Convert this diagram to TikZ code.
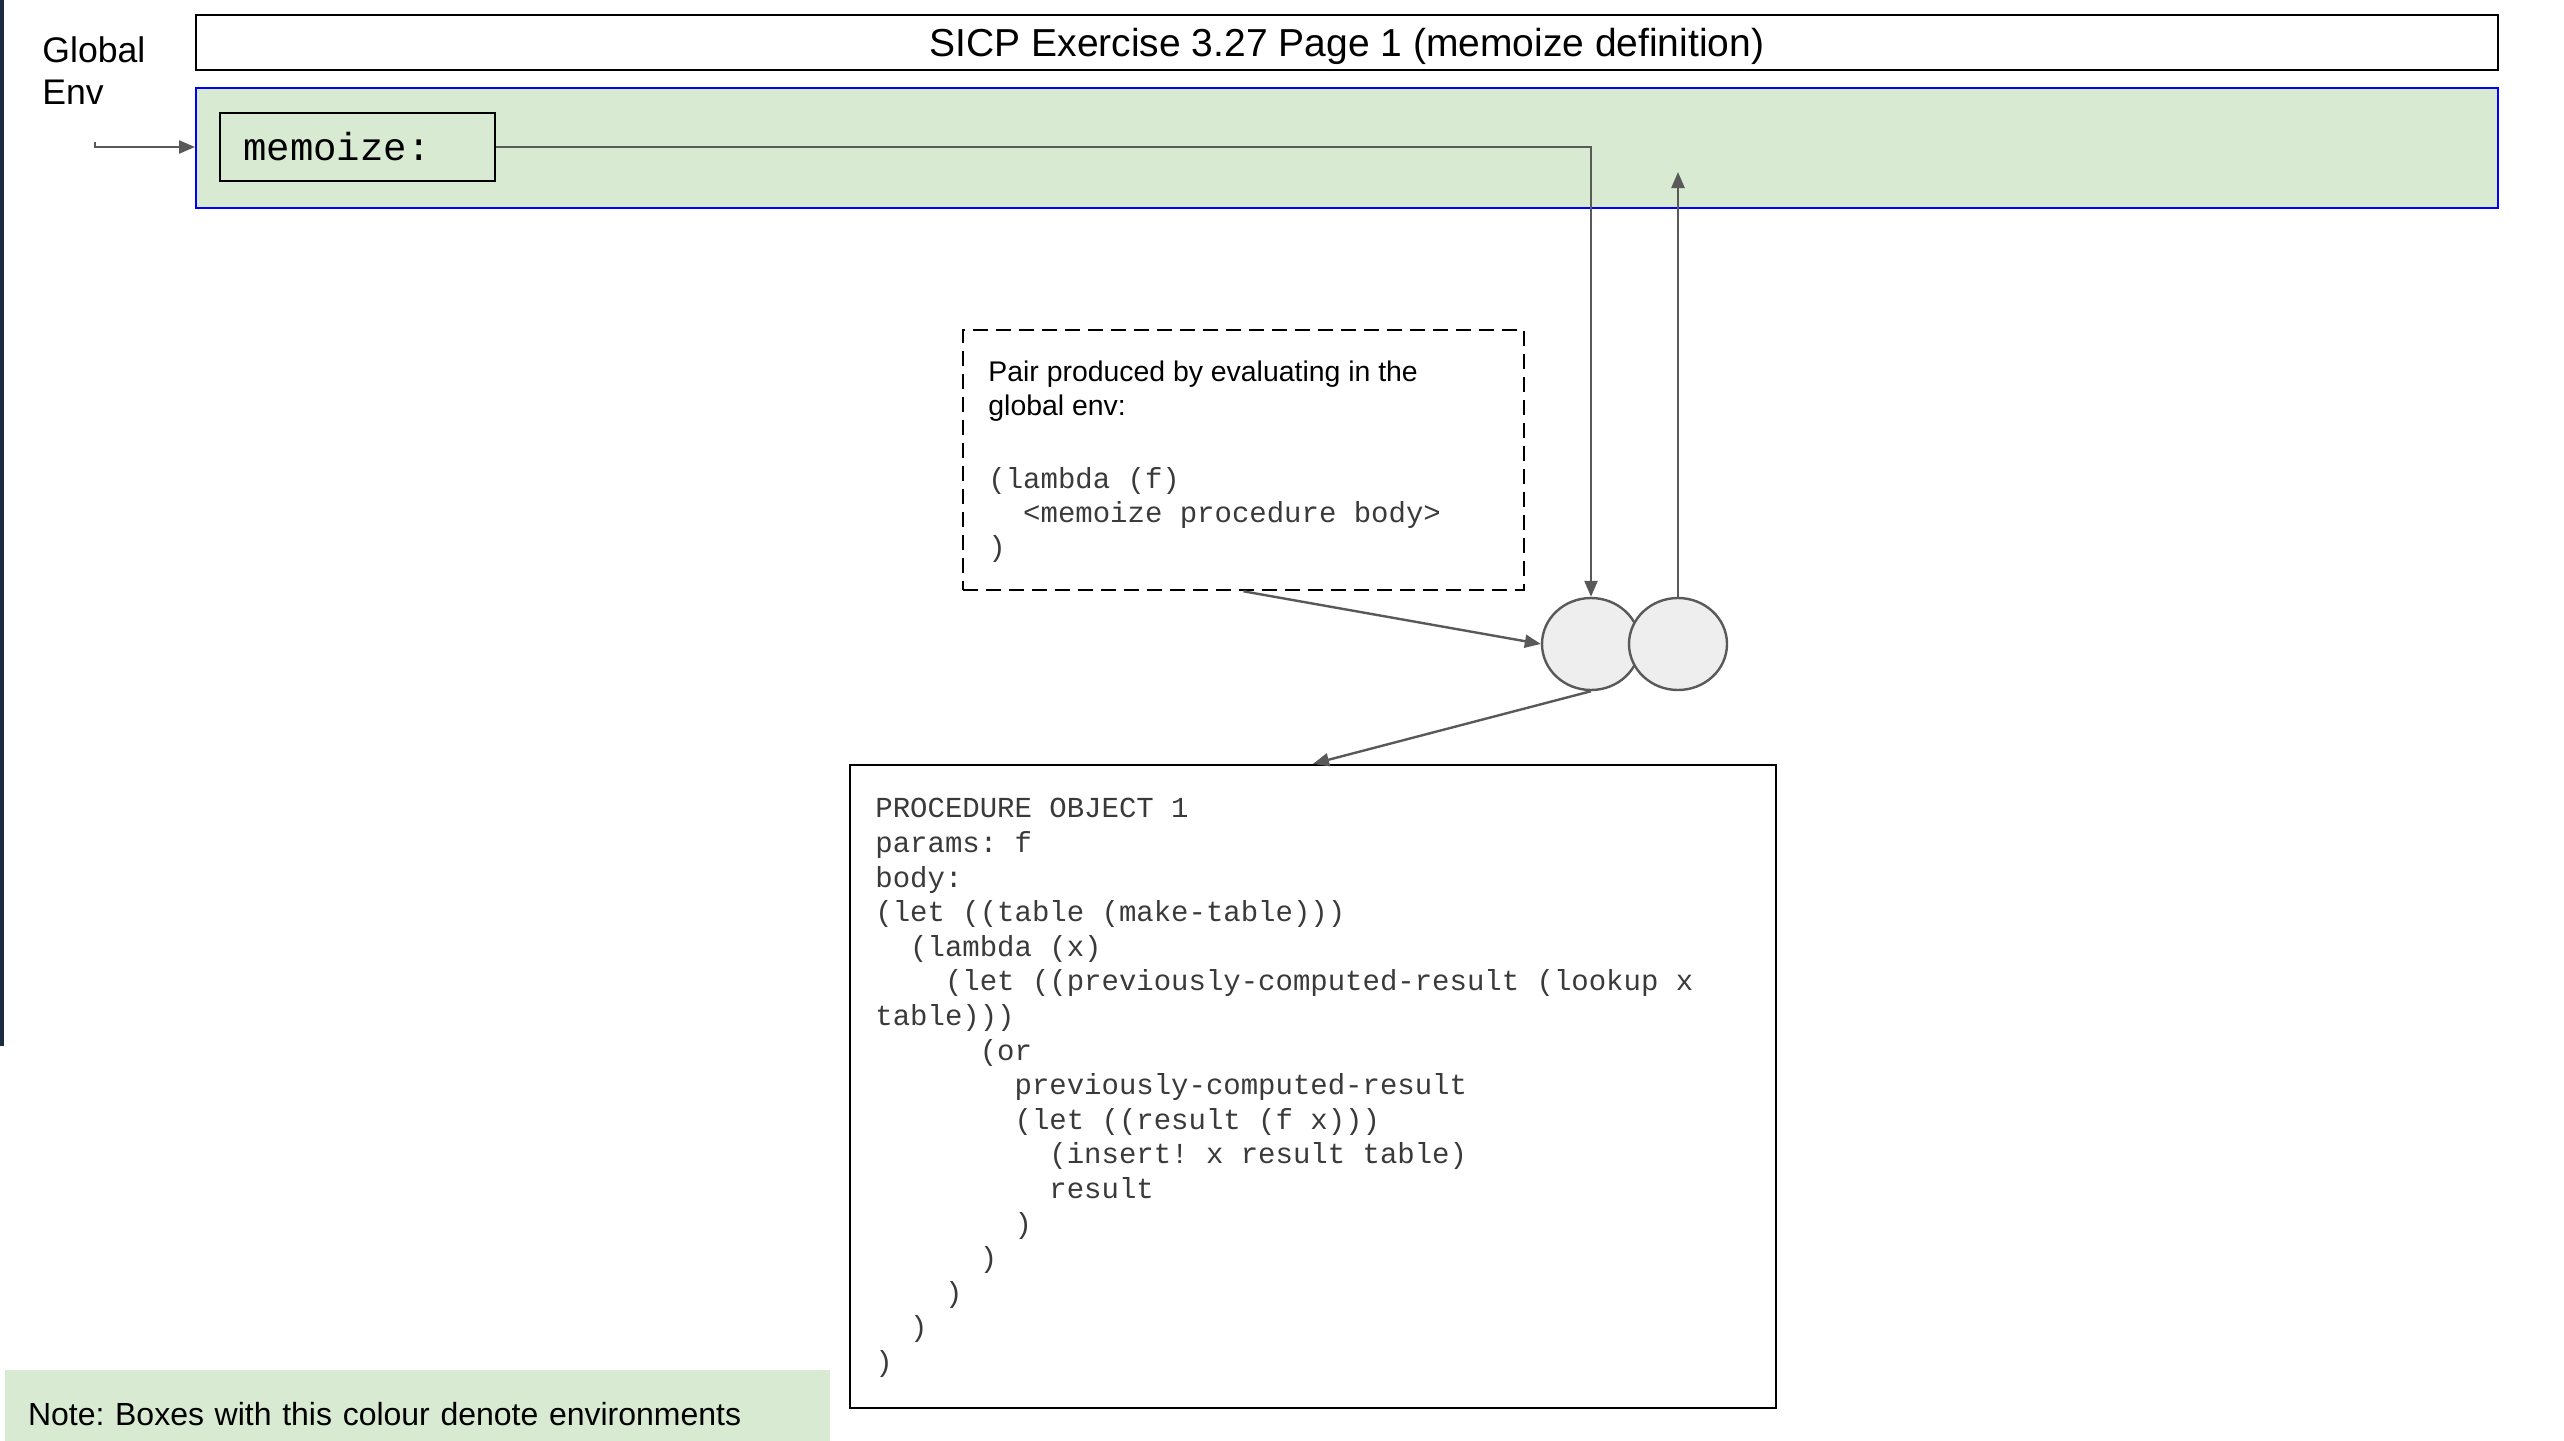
\documentclass[tikz,border=0pt]{standalone}
\usepackage{fontspec}
\setmainfont{Liberation Sans}
\setmonofont{Liberation Mono}
\usepackage{xcolor}
\usepackage{tikz}
\usetikzlibrary{shapes,arrows,positioning,calc,arrows.meta}
\definecolor{envgreen}{HTML}{D9EAD3}
\definecolor{linkgray}{HTML}{595959}
\definecolor{cellgray}{HTML}{EEEEEE}
\definecolor{edgenavy}{HTML}{1C2B44}
\definecolor{codeink}{HTML}{3A3A3A}
\newcommand{\codeind}[1]{\hspace*{#1\fontdimen2\font}}
\frenchspacing
\tikzset{
  framebox/.style={draw=black, line width=1.2pt, inner sep=0pt},
  envbox/.style={draw=blue, fill=envgreen, line width=1pt, inner sep=0pt},
  cell/.style={ellipse, draw=linkgray, fill=cellgray, line width=1.2pt, minimum width=49pt, minimum height=46pt, inner sep=0pt},
  link/.style={draw=linkgray, line width=1.2pt, -{Triangle[length=8pt,width=6.5pt]}},
  codetext/.style={inner sep=0pt, align=left, text=codeink, font=\ttfamily\fontsize{14.5}{17.3}\selectfont}
}

\begin{document}
\begin{tikzpicture}[x=0.5pt,y=-0.5pt]
    \useasboundingbox (0,0) rectangle (2564,1440);
    \fill[edgenavy] (0,0) rectangle (4,1046);
    % header and global environment
    \node[anchor=north west, inner sep=0pt, align=left, font=\fontsize{17.8}{21.25}\selectfont] (global) at (42,36) {Global\\Env};
    \node[framebox, minimum width=1151pt, minimum height=27.5pt, text depth=0pt, font=\fontsize{19.5}{23}\selectfont] (title) at (1347,42.5) {SICP Exercise 3.27 Page 1 (memoize definition)};
    \node[envbox, minimum width=1151pt, minimum height=60pt] (env) at (1347,148) {};
    \node[framebox, anchor=west, minimum height=34pt, text width=114.5pt, inner xsep=11.5pt, align=left, font=\ttfamily\fontsize{19.5}{23}\selectfont] (memo) at (219,147) {memoize:};
    \coordinate (genv) at (95,142);
    \draw[link] (genv) |- (env.west |- memo.west);
    % the pair
    \node[draw, dash pattern=on 7.5pt off 4pt, line width=1.3pt, minimum width=280.5pt, minimum height=130pt] (pair) at (1243.5,460) {};
    \node[anchor=north west, inner sep=0pt, align=left, font=\fontsize{14.2}{17}\selectfont] (pairtext) at (988,361) {Pair produced by evaluating in the\\global env:\\\mbox{}\\[2.5pt]{\color{codeink}\ttfamily\fontsize{14.5}{17}\selectfont (lambda (f)}\\{\color{codeink}\ttfamily\fontsize{14.5}{17}\selectfont\codeind{2}<memoize procedure body>}\\{\color{codeink}\ttfamily\fontsize{14.5}{17}\selectfont )}};
    \node[cell] (car) at (1591,644) {};
    \node[cell] (cdr) at (1678,644) {};
    \coordinate (envpt) at (1678,172);
    \draw[link] (memo.east) -| (car.north);
    \draw[link] (cdr.north) -- (envpt);
    \draw[link] (pair.south) -- (car.west);
    % procedure object
    \node[framebox, minimum width=463pt, minimum height=321.5pt] (proc) at (1313,1086.5) {};
    \node[codetext, anchor=north west] (proctext) at (875,798) {PROCEDURE OBJECT 1\\
params: f\\
body:\\
(let ((table (make-table)))\\
\codeind{2}(lambda (x)\\
\codeind{4}(let ((previously-computed-result (lookup x\\
table)))\\
\codeind{6}(or\\
\codeind{8}previously-computed-result\\
\codeind{8}(let ((result (f x)))\\
\codeind{10}(insert! x result table)\\
\codeind{10}result\\
\codeind{8})\\
\codeind{6})\\
\codeind{4})\\
\codeind{2})\\
)};
    \draw[link] (car.south) -- (proc.north);
    % legend
    \node[fill=envgreen, minimum width=412.5pt, minimum height=44pt, text width=389.5pt, inner xsep=11.5pt, align=left, font=\fontsize{16}{19}\selectfont] (note) at (417.5,1414) {Note: Boxes with this colour denote environments};
\end{tikzpicture}
\end{document}
